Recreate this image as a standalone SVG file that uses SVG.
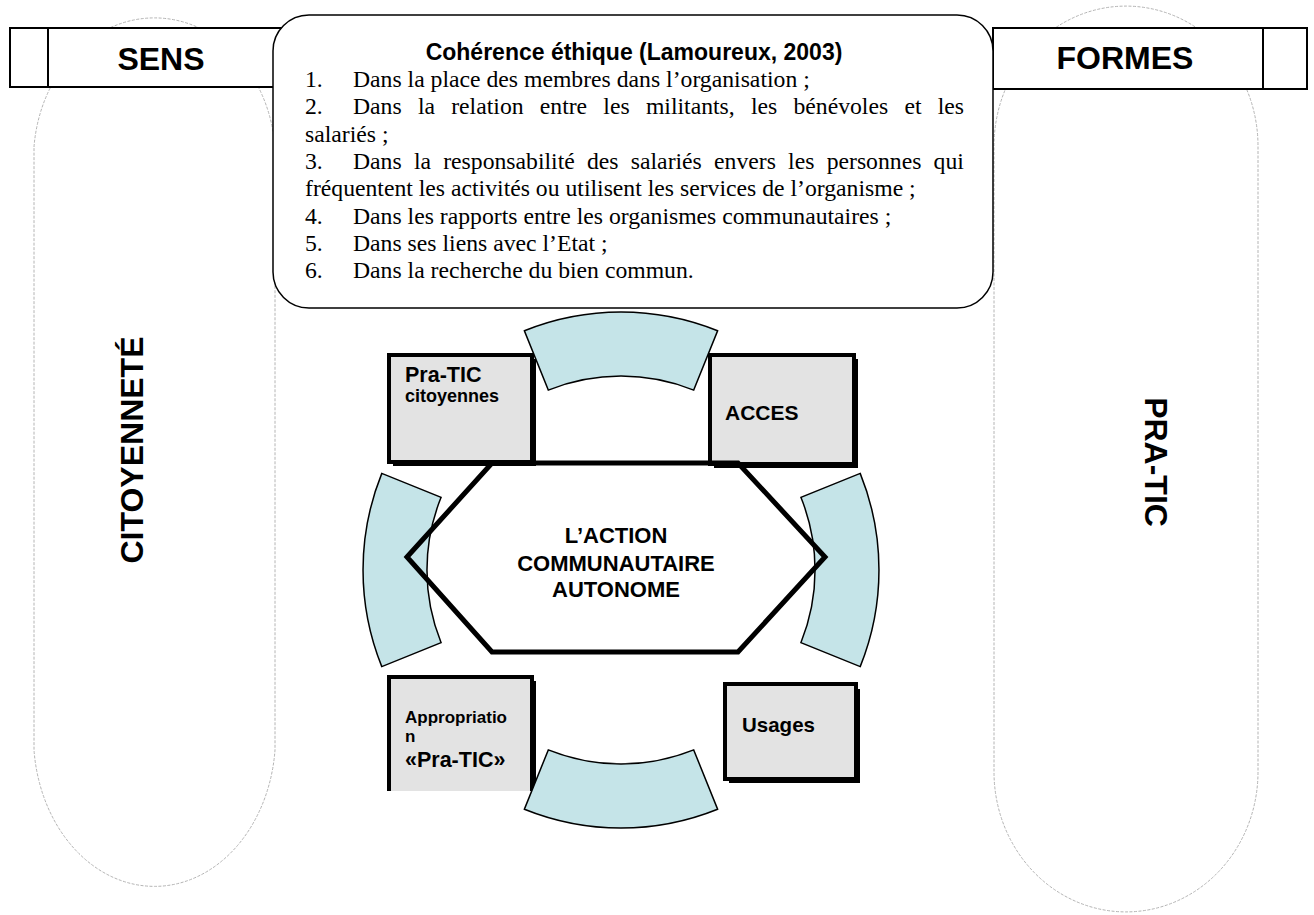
<svg xmlns="http://www.w3.org/2000/svg" width="1314" height="915" viewBox="0 0 1314 915">
<style>
.pill{fill:none;stroke:#b4b4b4;stroke-width:1;stroke-dasharray:3 1.5}
.hdr{fill:#fff;stroke:#000;stroke-width:2}
.hl{stroke:#000;stroke-width:2}
.sans{font-family:"Liberation Sans",Arial,sans-serif;font-weight:bold;fill:#000}
.serif{font-family:"Liberation Serif","Times New Roman",serif;font-size:23.7px;fill:#000}
.box{fill:#e3e3e3;stroke:#000;stroke-width:4}
.shadow{fill:#000}
.seg{fill:#c5e4e8;stroke:#000;stroke-width:1.5;stroke-linejoin:miter}
</style>
<rect width="1314" height="915" fill="#fff"/>
<g id="pill-citoyennete">
<path class="pill" d="M34,147 A121 142 0 0 1 275,147 L275,750 A121 150 0 0 1 34,750 Z"/>
<text class="sans" font-size="32" transform="translate(143,450) rotate(-90)" text-anchor="middle">CITOYENNETÉ</text>
</g>
<g id="pill-pratic">
<path class="pill" d="M994,146 A132 140 0 0 1 1258,146 L1258,772 A132 140 0 0 1 994,772 Z"/>
<text class="sans" font-size="32" transform="translate(1145,462) rotate(90)" text-anchor="middle">PRA-TIC</text>
</g>
<g id="hdr-sens">
<rect class="hdr" x="10" y="28" width="290" height="59"/>
<line class="hl" x1="48" y1="28" x2="48" y2="87"/>
<text class="sans" font-size="32" x="161" y="70" text-anchor="middle">SENS</text>
</g>
<g id="hdr-formes">
<rect class="hdr" x="993" y="28" width="314" height="61"/>
<line class="hl" x1="1263" y1="28" x2="1263" y2="89"/>
<text class="sans" font-size="32" x="1125" y="69" text-anchor="middle">FORMES</text>
</g>
<g id="coherence">
<rect x="273" y="15" width="720" height="293" rx="36" ry="36" fill="#fff" stroke="#000" stroke-width="1.5"/>
<text class="sans" font-size="23" x="634" y="60" text-anchor="middle">Cohérence éthique (Lamoureux, 2003)</text>
<text class="serif" x="305" y="87">1.</text><text class="serif" x="353" y="87">Dans la place des membres dans l’organisation ;</text>
<text class="serif" x="305" y="114">2.</text><text class="serif" x="353" y="114" word-spacing="10.3">Dans la relation entre les militants, les bénévoles et les</text>
<text class="serif" x="305" y="141.5">salariés ;</text>
<text class="serif" x="305" y="169">3.</text><text class="serif" x="353" y="169" word-spacing="6.3">Dans la responsabilité des salariés envers les personnes qui</text>
<text class="serif" x="305" y="196">fréquentent les activités ou utilisent les services de l’organisme ;</text>
<text class="serif" x="305" y="223.5">4.</text><text class="serif" x="353" y="223.5">Dans les rapports entre les organismes communautaires ;</text>
<text class="serif" x="305" y="251">5.</text><text class="serif" x="353" y="251">Dans ses liens avec l’Etat ;</text>
<text class="serif" x="305" y="278">6.</text><text class="serif" x="353" y="278">Dans la recherche du bien commun.</text>
</g>
<g id="box-pratic-citoyennes">
<rect class="shadow" x="393" y="359" width="143" height="107"/>
<rect class="box" x="389" y="355" width="143" height="107"/>
<text class="sans" font-size="21.5" x="405" y="382">Pra-TIC</text>
<text class="sans" font-size="18" x="405" y="402">citoyennes</text>
</g>
<g id="box-acces">
<rect class="shadow" x="714" y="359" width="144" height="109"/>
<rect class="box" x="710" y="355" width="144" height="109"/>
<text class="sans" font-size="21" x="725" y="420">ACCES</text>
</g>
<g id="box-appropriation">
<rect class="shadow" x="393" y="681" width="143" height="110"/>
<rect x="389" y="677" width="143" height="114" fill="#e3e3e3"/>
<path d="M389,791 V677 H532 V791" fill="none" stroke="#000" stroke-width="4"/>
<text class="sans" font-size="17" x="405" y="723">Appropriatio</text>
<text class="sans" font-size="17" x="405" y="742">n</text>
<text class="sans" font-size="21.5" x="405" y="767">«Pra-TIC»</text>
</g>
<g id="box-usages">
<rect class="shadow" x="729" y="689" width="131" height="94"/>
<rect class="box" x="725" y="684" width="131" height="95"/>
<text class="sans" font-size="20.5" x="742" y="732">Usages</text>
</g>
<g id="connectors">
<path class="seg" d="M524.4,330.8 A258 258 0 0 1 717.6,330.8 L693.7,390.1 A194 194 0 0 0 548.3,390.1 Z"/>
<path class="seg" d="M860.2,473.4 A258 258 0 0 1 860.2,666.6 L800.9,642.7 A194 194 0 0 0 800.9,497.3 Z"/>
<path class="seg" d="M717.6,809.2 A258 258 0 0 1 524.4,809.2 L548.3,749.9 A194 194 0 0 0 693.7,749.9 Z"/>
<path class="seg" d="M381.8,666.6 A258 258 0 0 1 381.8,473.4 L441.1,497.3 A194 194 0 0 0 441.1,642.7 Z"/>
</g>
<g id="action-communautaire">
<polygon points="407,557 492,463 738,463 825,557 738,652 492,652" fill="none" stroke="#000" stroke-width="5"/>
<text class="sans" font-size="22" x="616" y="543" text-anchor="middle">L’ACTION</text>
<text class="sans" font-size="22" x="616" y="571" text-anchor="middle">COMMUNAUTAIRE</text>
<text class="sans" font-size="22" x="616" y="597" text-anchor="middle">AUTONOME</text>
</g>
</svg>
